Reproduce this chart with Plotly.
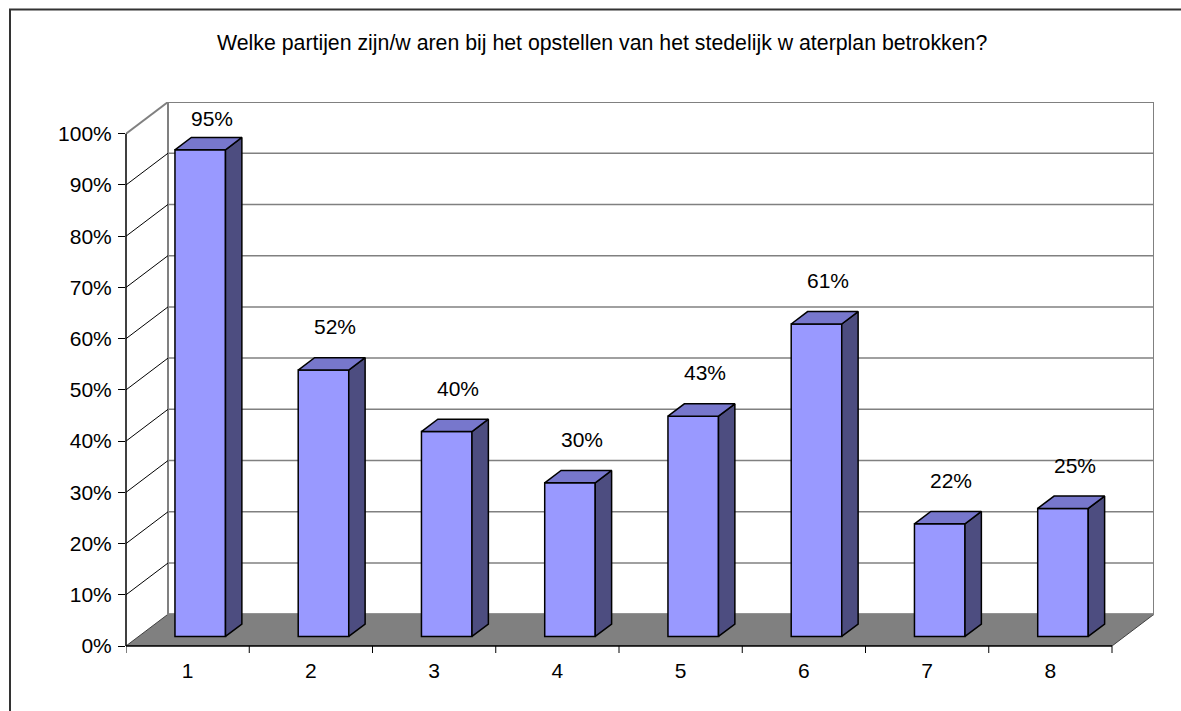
import numpy as np
import plotly.graph_objects as go

# ---- data ----
categories = ["1", "2", "3", "4", "5", "6", "7", "8"]
values = [95, 52, 40, 30, 43, 61, 22, 25]
y_ticks = [0, 10, 20, 30, 40, 50, 60, 70, 80, 90, 100]
y_tick_labels = [f"{v}%" for v in y_ticks]
value_labels = [f"{v}%" for v in values]
title_text = "Welke partijen zijn/w aren bij het opstellen van het stedelijk w aterplan betrokken?"

# ---- geometry / style ----
W, H = 1181, 711
ML, MR, MT, MB = 126, 27, 102, 65
PW, PH = W - ML - MR, H - MT - MB
n = len(categories)
xs = np.arange(1, n + 1, dtype=float)
X_LO = 0.5
X_HI = n + 0.5
PX_PER_X = 123.25
DX = 42 / PX_PER_X          # depth offset (x units)
DY = 6.2                    # depth offset (y units)
YMAX = 100 + DY
PX_PER_Y = PH / YMAX
F1, F2 = 0.30, 0.69         # bar front/back depth fractions
BW = 0.41                   # bar width
FONT = "Liberation Sans, Arial, sans-serif"
FS = 21

FRONT = "#9999FF"
SIDE = "#4D4D80"
TOP = "#7777CC"
WALL = "#808080"

fig = go.Figure()

# front faces
fig.add_trace(go.Bar(
    x=xs + F1 * DX, y=values, base=F1 * DY, width=BW,
    marker=dict(color=FRONT, line=dict(color="black", width=1.5)),
    hoverinfo="skip", showlegend=False))

# side and top faces
sx, sy, tx, ty = [], [], [], []
for xi, v in zip(xs, values):
    xl, xr = xi - BW / 2, xi + BW / 2
    sx += [xr + F1 * DX, xr + F2 * DX, xr + F2 * DX, xr + F1 * DX, xr + F1 * DX, None]
    sy += [F1 * DY, F2 * DY, v + F2 * DY, v + F1 * DY, F1 * DY, None]
    tx += [xl + F1 * DX, xl + F2 * DX, xr + F2 * DX, xr + F1 * DX, xl + F1 * DX, None]
    ty += [v + F1 * DY, v + F2 * DY, v + F2 * DY, v + F1 * DY, v + F1 * DY, None]
fig.add_trace(go.Scatter(x=sx, y=sy, mode="lines", fill="toself", fillcolor=SIDE,
                         line=dict(color="black", width=1.5), hoverinfo="skip", showlegend=False))
fig.add_trace(go.Scatter(x=tx, y=ty, mode="lines", fill="toself", fillcolor=TOP,
                         line=dict(color="black", width=1.5), hoverinfo="skip", showlegend=False))

shapes = []
# floor
shapes.append(dict(type="path", xref="x", yref="y", layer="below",
                   path=f"M {X_LO},0 L {X_HI},0 L {X_HI + DX},{DY} L {X_LO + DX},{DY} Z",
                   fillcolor="#808080", line=dict(color="#404040", width=1)))
# back wall
shapes.append(dict(type="rect", xref="x", yref="y", layer="below",
                   x0=X_LO + DX, x1=X_HI + DX, y0=DY, y1=100 + DY,
                   line=dict(color=WALL, width=2)))
# left wall top edge
shapes.append(dict(type="line", xref="x", yref="y", layer="below",
                   x0=X_LO, y0=100, x1=X_LO + DX, y1=100 + DY,
                   line=dict(color=WALL, width=2)))
# gridlines
for t in y_ticks[1:-1]:
    shapes.append(dict(type="line", xref="x", yref="y", layer="below",
                       x0=X_LO + DX, x1=X_HI + DX, y0=t + DY, y1=t + DY,
                       line=dict(color=WALL, width=1.5)))
    shapes.append(dict(type="line", xref="x", yref="y", layer="below",
                       x0=X_LO, x1=X_LO + DX, y0=t, y1=t + DY,
                       line=dict(color="black", width=1)))
# y axis line
shapes.append(dict(type="line", xref="paper", yref="y", x0=0, x1=0, y0=0, y1=100,
                   line=dict(color="black", width=1.5)))
# x axis line
shapes.append(dict(type="line", xref="x", yref="paper", x0=X_LO, x1=X_HI, y0=0, y1=0,
                   line=dict(color="black", width=1.5)))
# x tick marks at category boundaries
for b in np.arange(X_LO, X_HI + 0.01, 1.0):
    shapes.append(dict(type="line", xref="x", yref="paper", x0=b, x1=b, y0=0, y1=-7 / PH,
                       line=dict(color="black", width=1)))
# outer chart border
shapes.append(dict(type="rect", xref="paper", yref="paper",
                   x0=(10 - ML) / PW, x1=(W + 10 - ML) / PW,
                   y0=(H - MB - (H + 10)) / PH, y1=(H - MB - 9.5) / PH,
                   line=dict(color="#333333", width=2)))

annotations = []
for xi, v, lab in zip(xs, values, value_labels):
    annotations.append(dict(x=xi + 0.58 * DX, y=min(v + F2 * DY + 31 / PX_PER_Y, 103.0),
                            xref="x", yref="y", text=lab, showarrow=False,
                            xanchor="center", yanchor="middle",
                            font=dict(family=FONT, size=FS, color="black")))
annotations.append(dict(x=(602 - ML) / PW, y=(H - MB - 43) / PH, xref="paper", yref="paper",
                        text=title_text, showarrow=False, xanchor="center", yanchor="middle",
                        font=dict(family=FONT, size=21.3, color="black")))

fig.update_layout(
    width=W, height=H,
    margin=dict(l=ML, r=MR, t=MT, b=MB, pad=0),
    paper_bgcolor="white", plot_bgcolor="white",
    showlegend=False, hovermode=False,
    shapes=shapes, annotations=annotations,
    xaxis=dict(range=[X_LO, X_HI + DX], tickvals=xs, ticktext=categories,
               ticks="", showgrid=False, zeroline=False, showline=False,
               tickfont=dict(family=FONT, size=FS, color="black"),
               ticklabelstandoff=10, fixedrange=True),
    yaxis=dict(range=[0, YMAX], tickvals=y_ticks, ticktext=y_tick_labels,
               ticks="outside", ticklen=7, tickcolor="black", tickwidth=1,
               showgrid=False, zeroline=False, showline=False,
               tickfont=dict(family=FONT, size=FS, color="black"),
               ticklabelstandoff=2, fixedrange=True),
)

fig.write_html("out.html", config={"displayModeBar": False},
               post_script="document.body.style.margin='0';document.body.style.overflow='hidden';")
